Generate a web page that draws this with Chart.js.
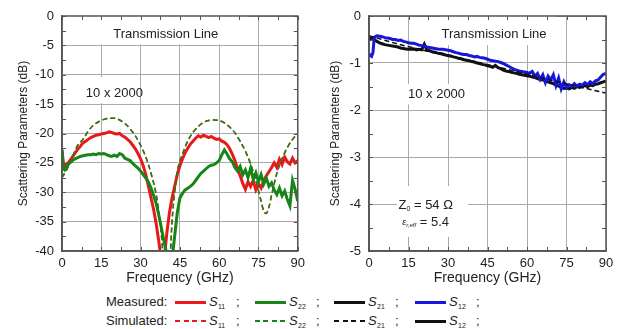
<!DOCTYPE html>
<html>
<head>
<meta charset="utf-8">
<script src="https://cdn.jsdelivr.net/npm/chart.js@4.4.1/dist/chart.umd.min.js"></script>
<style>
  body { margin: 0; background: #fff; width: 622px; height: 329px; overflow: hidden; position: relative;
         font-family: "Liberation Sans", Arial, sans-serif; color: #222; }
  .plot { position: absolute; top: 0; }
  #legend div { position: absolute; white-space: nowrap; }
</style>
</head>
<body>
<div class="plot" style="left:0px"><canvas id="left" width="310" height="290"></canvas></div>
<div class="plot" style="left:310px"><canvas id="right" width="312" height="290"></canvas></div>
<div id="legend"></div>
<script>
// ---- left panel: reflection (S11 / S22), dB ----
const freqMeasL = [0, 0.5, 1, 2, 3, 4, 5, 6, 7, 8, 9, 10, 11, 12, 13, 14, 15, 16, 17, 18, 19, 20,
  21, 22, 23, 24, 25, 26, 27, 28, 29, 30, 31, 32, 33, 34, 35, 36, 37, 38, 39, 40, 41, 42, 43, 44, 45,
  46, 47, 48, 49, 50, 51, 52, 53, 54, 55, 56, 57, 58, 59, 60, 61, 62, 63, 64, 65, 66, 67, 68, 69, 70,
  71, 72, 73, 74, 75, 76, 77, 78, 79, 80, 81, 82, 83, 84, 85, 86, 87, 88, 89, 90];
const measS11 = [-22.8, -25.0, -25.6, -25.2, -24.6, -24.0, -23.3, -22.7, -22.2, -21.6, -21.3, -21.0,
  -20.7, -20.5, -20.3, -20.2, -20.1, -20.0, -19.9, -19.7, -19.8, -20.0, -20.1, -20.0, -20.4, -20.6,
  -21.0, -21.4, -22.0, -22.6, -23.4, -24.3, -25.5, -27.0, -29.0, -31.0, -33.0, -35.5, -38.5, -42.0,
  -41.5, -37.0, -33.5, -31.0, -29.0, -27.0, -25.5, -24.3, -23.3, -22.5, -21.8, -21.3, -20.8, -20.4,
  -20.6, -20.3, -20.5, -20.7, -20.5, -20.8, -21.0, -20.9, -21.3, -21.5, -21.9, -22.6, -23.5, -24.6,
  -26.0, -27.2, -28.5, -29.5, -28.2, -29.0, -28.0, -29.6, -28.6, -29.3, -28.0, -27.2, -26.5, -25.8,
  -25.0, -25.8, -24.4, -25.3, -24.0, -24.8, -25.2, -24.2, -25.0, -24.6];
const measS22 = [-22.8, -26.0, -26.2, -25.5, -25.0, -24.6, -24.3, -24.1, -23.9, -23.8, -23.7, -23.6,
  -23.6, -23.5, -23.6, -23.4, -23.5, -23.4, -23.6, -23.8, -23.9, -23.7, -23.9, -23.4, -23.6, -24.2,
  -24.4, -24.6, -25.1, -25.5, -25.9, -26.4, -27.0, -27.6, -28.3, -29.3, -30.6, -32.0, -34.0, -36.2,
  -38.5, -40.5, -42.0, -41.5, -37.5, -33.5, -31.0, -30.2, -29.6, -29.3, -29.0, -28.6, -28.0, -27.4,
  -26.8, -26.4, -26.0, -25.6, -25.4, -25.3, -25.0, -24.6, -23.6, -22.8, -23.5, -24.3, -24.8, -25.8,
  -26.4, -25.6, -27.0, -26.2, -27.5, -25.9, -27.8, -26.7, -28.2, -27.0, -28.6, -27.6, -29.0, -28.4,
  -29.6, -30.4, -29.3, -30.6, -29.8, -31.2, -32.3, -28.0, -29.5, -31.5];
// simulated S11 and S22 coincide (symmetric line)
const freqSimL = [0, 2, 4, 6, 8, 10, 12, 14, 16, 18, 20, 22, 24, 26, 28, 30, 32, 34, 36,
  37, 38, 39, 40, 41, 42, 43, 44, 46, 48, 50, 52, 54, 56, 58, 60, 62, 64, 66, 68, 70, 72, 74, 76,
  77, 78, 79, 80, 82, 84, 86, 88, 90];
const simS11 = [-27.5, -26.0, -24.0, -22.0, -21.0, -19.6, -18.6, -18.0, -17.6, -17.4, -17.4, -17.7,
  -18.3, -19.2, -20.4, -22.0, -24.0, -26.8, -30.5,
  -33.5, -37.5, -44.0, -50.0, -44.0, -35.0, -30.0, -26.5, -23.5, -21.3, -19.8, -18.8, -18.1, -17.8,
  -17.7, -17.8, -18.2, -18.9, -19.9, -21.3, -23.0, -25.2, -28.0, -31.5,
  -33.2, -33.6, -32.5, -30.5, -26.8, -24.3, -22.4, -21.0, -20.0];
const simS22 = simS11;

// ---- right panel: transmission (S21 / S12), dB ----
const freqMeasR = [0, 0.5, 1, 1.5, 2, 3, 4, 5, 6, 7, 8, 9, 10, 11, 12, 13, 14, 15, 16, 17, 18, 19, 20,
  21, 22, 23, 24, 25, 26, 27, 28, 29, 30, 31, 32, 33, 34, 35, 36, 37, 38, 39, 40, 41, 42, 43, 44, 45,
  46, 47, 48, 49, 50, 51, 52, 53, 54, 55, 56, 57, 58, 59, 60, 61, 62, 63, 64, 65, 66, 67, 68, 69, 70,
  71, 72, 73, 74, 75, 76, 77, 78, 79, 80, 81, 82, 83, 84, 85, 86, 87, 88, 89, 90];
const measS12 = [-0.80, -0.84, -0.86, -0.78, -0.45, -0.42, -0.43, -0.44, -0.46, -0.47, -0.48, -0.50,
  -0.50, -0.52, -0.51, -0.54, -0.55, -0.57, -0.58, -0.58, -0.60, -0.62, -0.63, -0.64, -0.66, -0.67,
  -0.68, -0.69, -0.70, -0.71, -0.71, -0.72, -0.73, -0.74, -0.76, -0.78, -0.79, -0.81, -0.82, -0.82,
  -0.84, -0.85, -0.87, -0.86, -0.88, -0.89, -0.90, -0.92, -0.94, -0.95, -0.96, -0.97, -0.99, -1.01,
  -1.04, -1.07, -1.10, -1.13, -1.15, -1.17, -1.18, -1.19, -1.20, -1.22, -1.18, -1.28, -1.22, -1.35,
  -1.25, -1.42, -1.28, -1.36, -1.25, -1.48, -1.32, -1.55, -1.40, -1.52, -1.46, -1.50, -1.44, -1.49,
  -1.45, -1.47, -1.42, -1.46, -1.40, -1.44, -1.38, -1.36, -1.30, -1.24, -1.22];
const measS21 = [-0.52, -0.48, -0.47, -0.48, -0.50, -0.54, -0.57, -0.59, -0.61, -0.62, -0.63, -0.64,
  -0.65, -0.66, -0.68, -0.69, -0.70, -0.71, -0.71, -0.70, -0.72, -0.71, -0.72, -0.60, -0.73, -0.74,
  -0.76, -0.77, -0.79, -0.80, -0.81, -0.83, -0.84, -0.85, -0.87, -0.88, -0.90, -0.91, -0.93, -0.94,
  -0.95, -0.97, -0.98, -1.00, -1.01, -1.03, -1.04, -1.06, -1.07, -1.09, -1.05, -1.10, -1.12, -1.15,
  -1.17, -1.18, -1.20, -1.21, -1.22, -1.24, -1.25, -1.26, -1.27, -1.28, -1.30, -1.31, -1.33, -1.35,
  -1.36, -1.38, -1.40, -1.42, -1.44, -1.47, -1.49, -1.52, -1.54, -1.53, -1.55, -1.52, -1.54, -1.50,
  -1.52, -1.50, -1.48, -1.50, -1.47, -1.48, -1.45, -1.44, -1.42, -1.40, -1.38];
const freqSimR = [0, 10, 20, 30, 40, 50, 60, 70, 80, 90];
const simS21 = [-0.42, -0.58, -0.72, -0.85, -0.97, -1.10, -1.24, -1.38, -1.51, -1.64];

const xTicks = { min: 0, max: 90, step: 15 };
const yTicksL = { min: -40, max: 0, step: 5 };
const yTicksR = { min: -5, max: 0, step: 1 };

const FONT = '"Liberation Sans", Arial, sans-serif';
const RED = '#e8191b', GREEN = '#178417', BLUE = '#1616dc', BLACK = '#111';

function pts(xs, ys) {
  return xs.map((x, i) => ({ x: x, y: ys[i] }));
}

function measured(label, xs, ys, color) {
  return { label, data: pts(xs, ys), borderColor: color, borderWidth: 3, pointRadius: 0, tension: 0 };
}

function simulated(label, xs, ys, color) {
  return { label, data: pts(xs, ys), borderColor: color, borderWidth: 1.5, borderDash: [5, 3],
           pointRadius: 0, cubicInterpolationMode: 'monotone' };
}

// draws white label boxes (over the grid, under the data) and the frame with inward ticks
const framePlugin = {
  id: 'frame',
  beforeDatasetsDraw(chart, args, opts) {
    const { ctx, scales: { x, y } } = chart;
    ctx.save();
    (opts.notes || []).forEach(n => {
      if (n.box) {
        const x0 = x.getPixelForValue(n.box[0]), x1 = x.getPixelForValue(n.box[1]);
        const y0 = y.getPixelForValue(n.box[2]), y1 = y.getPixelForValue(n.box[3]);
        ctx.fillStyle = '#fff';
        ctx.fillRect(Math.min(x0, x1), Math.min(y0, y1), Math.abs(x1 - x0), Math.abs(y1 - y0));
      }
      let px = x.getPixelForValue(n.x);
      const py = y.getPixelForValue(n.y);
      let w = 0;
      n.parts.forEach(p => {
        ctx.font = (p.italic ? 'italic ' : '') + p.size + 'px ' + FONT;
        w += ctx.measureText(p.t).width;
      });
      if (n.align === 'center') px -= w / 2;
      ctx.textBaseline = 'middle';
      ctx.fillStyle = '#222';
      n.parts.forEach(p => {
        ctx.font = (p.italic ? 'italic ' : '') + p.size + 'px ' + FONT;
        ctx.fillText(p.t, px, py + (p.dy || 0));
        px += ctx.measureText(p.t).width;
      });
    });
    ctx.restore();
  },
  afterDraw(chart, args, opts) {
    const { ctx, chartArea: a, scales: { x, y } } = chart;
    ctx.save();
    ctx.strokeStyle = '#555';
    ctx.lineWidth = 1;
    ctx.beginPath();
    for (let v = x.min; v <= x.max + 1e-9; v += opts.xMinor) {
      const p = Math.round(x.getPixelForValue(v)) + 0.5;
      ctx.moveTo(p, a.top); ctx.lineTo(p, a.top + 4);
      ctx.moveTo(p, a.bottom); ctx.lineTo(p, a.bottom - 4);
    }
    for (let v = y.min; v <= y.max + 1e-9; v += opts.yMinor) {
      const p = Math.round(y.getPixelForValue(v)) + 0.5;
      ctx.moveTo(a.left, p); ctx.lineTo(a.left + 4, p);
      ctx.moveTo(a.right, p); ctx.lineTo(a.right - 4, p);
    }
    ctx.stroke();
    ctx.lineWidth = 1.5;
    ctx.strokeRect(a.left, a.top, a.right - a.left, a.bottom - a.top);
    ctx.restore();
  }
};

function makeChart(id, datasets, yt, axisW, rightPad, titlePad, frameOpts) {
  return new Chart(document.getElementById(id), {
    type: 'line',
    data: { datasets },
    plugins: [framePlugin],
    options: {
      responsive: false,
      animation: false,
      layout: { padding: { left: 0, top: 16, right: rightPad, bottom: 0 } },
      plugins: { legend: { display: false }, tooltip: { enabled: false }, frame: frameOpts },
      scales: {
        x: {
          type: 'linear', min: xTicks.min, max: xTicks.max,
          ticks: { stepSize: xTicks.step, color: '#222', font: { family: FONT, size: 13 }, padding: 5, maxRotation: 0 },
          grid: { color: '#aaa', lineWidth: 1, drawTicks: false },
          border: { color: '#555', width: 1.5 },
          title: { display: true, text: 'Frequency (GHz)', color: '#222', font: { family: FONT, size: 14 },
                   padding: { top: 0, bottom: 3 } },
          afterFit: s => { s.height = 39; }
        },
        y: {
          min: yt.min, max: yt.max,
          ticks: { stepSize: yt.step, color: '#222', font: { family: FONT, size: 13 }, padding: 8 },
          grid: { color: '#aaa', lineWidth: 1, drawTicks: false },
          border: { color: '#555', width: 1.5 },
          title: { display: true, text: 'Scattering Parameters (dB)', color: '#222', font: { family: FONT, size: 12 },
                   padding: { top: titlePad, bottom: 0 } },
          afterFit: s => { s.width = axisW; }
        }
      }
    }
  });
}

// first dataset is drawn on top
makeChart('left', [
  simulated('Simulated S22', freqSimL, simS22, GREEN),
  measured('Measured S22', freqMeasL, measS22, GREEN),
  measured('Measured S11', freqMeasL, measS11, RED),
  simulated('Simulated S11', freqSimL, simS11, RED)
], yTicksL, 62, 10, 16, {
  xMinor: 7.5, yMinor: 2.5,
  notes: [
    { x: 39.6, y: -3.2, align: 'center', box: [0.3, 71, 0, -4.85], parts: [{ t: 'Transmission Line', size: 13 }] },
    { x: 9.1, y: -13.15, align: 'left', box: [5, 23, -10.4, -14.85], parts: [{ t: '10 x 2000', size: 13 }] }
  ]
});

makeChart('right', [
  simulated('Simulated S21', freqSimR, simS21, BLACK),
  measured('Measured S12', freqMeasR, measS12, BLUE),
  measured('Measured S21', freqMeasR, measS21, BLACK)
], yTicksR, 59, 16, 18, {
  xMinor: 7.5, yMinor: 0.5,
  notes: [
    { x: 47.5, y: -0.39, align: 'center', box: [27, 71, 0, -0.62], parts: [{ t: 'Transmission Line', size: 13 }] },
    { x: 14.8, y: -1.66, align: 'left', box: [13, 33, -1.45, -1.88], parts: [{ t: '10 x 2000', size: 13 }] },
    { x: 11.2, y: -4.02, align: 'left', box: [10.6, 37.6, -3.62, -4.7],
      parts: [{ t: 'Z', size: 13 }, { t: '0', size: 7, dy: 4 }, { t: ' = 54 \u03A9', size: 13 }] },
    { x: 12.6, y: -4.4, align: 'left',
      parts: [{ t: '\u03B5', size: 9, italic: true }, { t: 'r,eff', size: 6, italic: true, dy: 3 }, { t: ' = 5.4', size: 13 }] }
  ]
});

// ---- legend (two rows below the panels) ----
const legendRows = [
  { label: 'Measured:', y: 302, styles: [[RED, 'solid'], [GREEN, 'solid'], [BLACK, 'solid'], [BLUE, 'solid']] },
  { label: 'Simulated:', y: 321, styles: [[RED, 'dash'], [GREEN, 'dash'], [BLACK, 'dash'], [BLACK, 'thick']] }
];
const legendSubs = ['11', '22', '21', '12'];
const legendX = [175, 255, 334, 415];

const legend = document.getElementById('legend');
function add(html, css) {
  const d = document.createElement('div');
  d.innerHTML = html;
  d.style.cssText = css;
  legend.appendChild(d);
}
legendRows.forEach(row => {
  add(row.label, `left:106px;top:${row.y - 8}px;font-size:13px;line-height:16px;`);
  row.styles.forEach(([color, kind], i) => {
    const x0 = legendX[i];
    if (kind === 'dash') {
      add('', `left:${x0}px;top:${row.y - 1}px;width:31px;height:1.5px;` +
        `background:repeating-linear-gradient(90deg, ${color} 0 5px, transparent 5px 8.5px);`);
    } else {
      add('', `left:${x0}px;top:${row.y - 1.5}px;width:31px;height:3px;background:${color};`);
    }
    add('S', `left:${x0 + 34}px;top:${row.y - 8}px;font-size:13px;line-height:16px;font-style:italic;`);
    add(legendSubs[i], `left:${x0 + 43}px;top:${row.y + 1}px;font-size:7px;line-height:8px;`);
    add(';', `left:${x0 + 61}px;top:${row.y - 8}px;font-size:13px;line-height:16px;`);
  });
});
</script>
</body>
</html>
